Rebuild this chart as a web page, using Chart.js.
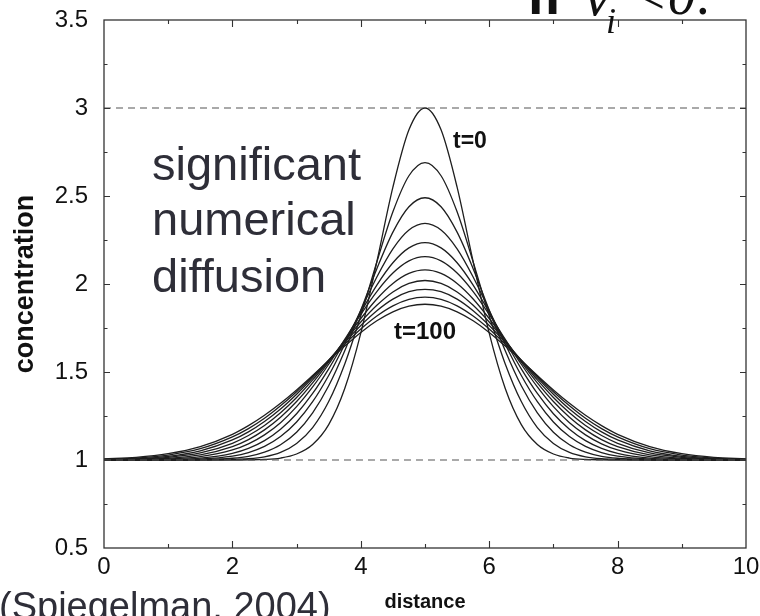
<!DOCTYPE html>
<html>
<head>
<meta charset="utf-8">
<script src="https://cdn.jsdelivr.net/npm/chart.js@4.4.0/dist/chart.umd.min.js"></script>
<style>
  html, body { margin: 0; padding: 0; background: #fff; }
  #wrap { width: 760px; height: 616px; }
</style>
</head>
<body>
<div id="wrap"><canvas id="diffChart" width="760" height="616"></canvas></div>
<script>
// distance (x) sample points
const distance = [0, 0.5, 1, 1.5, 2, 2.25, 2.5, 2.75, 3, 3.25, 3.5, 3.75, 4, 4.25, 4.5, 4.75, 5,
  5.25, 5.5, 5.75, 6, 6.25, 6.5, 6.75, 7, 7.25, 7.5, 7.75, 8, 8.5, 9, 9.5, 10];

// concentration profiles, t = 0 ... 100
const times = [0, 10, 20, 30, 40, 50, 60, 70, 80, 90, 100];
const t0 = [1.000, 1.000, 1.000, 1.000, 1.000, 1.001, 1.003, 1.011, 1.034, 1.088, 1.201, 1.406, 1.721, 2.127, 2.550, 2.876, 3.000,
  2.876, 2.550, 2.127, 1.721, 1.406, 1.201, 1.088, 1.034, 1.011, 1.003, 1.001, 1.000, 1.000, 1.000, 1.000, 1.000];
const t10 = [1.000, 1.000, 1.000, 1.000, 1.003, 1.007, 1.018, 1.043, 1.094, 1.184, 1.332, 1.546, 1.820, 2.125, 2.410, 2.615, 2.690,
  2.615, 2.410, 2.125, 1.820, 1.546, 1.332, 1.184, 1.094, 1.043, 1.018, 1.007, 1.003, 1.000, 1.000, 1.000, 1.000];
const t20 = [1.000, 1.000, 1.000, 1.002, 1.010, 1.021, 1.045, 1.087, 1.158, 1.268, 1.422, 1.621, 1.851, 2.087, 2.295, 2.439, 2.490,
  2.439, 2.295, 2.087, 1.851, 1.621, 1.422, 1.268, 1.158, 1.087, 1.045, 1.021, 1.010, 1.002, 1.000, 1.000, 1.000];
const t30 = [1.000, 1.000, 1.001, 1.005, 1.022, 1.042, 1.077, 1.133, 1.216, 1.331, 1.480, 1.658, 1.851, 2.040, 2.200, 2.307, 2.345,
  2.307, 2.200, 2.040, 1.851, 1.658, 1.480, 1.331, 1.216, 1.133, 1.077, 1.042, 1.022, 1.005, 1.001, 1.000, 1.000];
const t40 = [1.000, 1.000, 1.003, 1.011, 1.038, 1.066, 1.110, 1.175, 1.263, 1.378, 1.518, 1.675, 1.839, 1.994, 2.121, 2.205, 2.235,
  2.205, 2.121, 1.994, 1.839, 1.675, 1.518, 1.378, 1.263, 1.175, 1.110, 1.066, 1.038, 1.011, 1.003, 1.000, 1.000];
const t50 = [1.000, 1.001, 1.005, 1.019, 1.057, 1.092, 1.143, 1.212, 1.303, 1.415, 1.544, 1.685, 1.827, 1.957, 2.062, 2.131, 2.155,
  2.131, 2.062, 1.957, 1.827, 1.685, 1.544, 1.415, 1.303, 1.212, 1.143, 1.092, 1.057, 1.019, 1.005, 1.001, 1.000];
const t60 = [1.001, 1.003, 1.010, 1.029, 1.076, 1.116, 1.171, 1.243, 1.332, 1.438, 1.556, 1.681, 1.804, 1.915, 2.003, 2.060, 2.080,
  2.060, 2.003, 1.915, 1.804, 1.681, 1.556, 1.438, 1.332, 1.243, 1.171, 1.116, 1.076, 1.029, 1.010, 1.003, 1.001];
const t70 = [1.001, 1.005, 1.015, 1.040, 1.095, 1.139, 1.196, 1.268, 1.355, 1.455, 1.564, 1.676, 1.784, 1.879, 1.955, 2.003, 2.020,
  2.003, 1.955, 1.879, 1.784, 1.676, 1.564, 1.455, 1.355, 1.268, 1.196, 1.139, 1.095, 1.040, 1.015, 1.005, 1.001];
const t80 = [1.003, 1.008, 1.021, 1.052, 1.114, 1.160, 1.219, 1.290, 1.374, 1.467, 1.567, 1.668, 1.764, 1.848, 1.914, 1.956, 1.970,
  1.956, 1.914, 1.848, 1.764, 1.668, 1.567, 1.467, 1.374, 1.290, 1.219, 1.160, 1.114, 1.052, 1.021, 1.008, 1.003];
const t90 = [1.004, 1.011, 1.028, 1.064, 1.131, 1.178, 1.237, 1.308, 1.388, 1.475, 1.567, 1.658, 1.744, 1.818, 1.876, 1.913, 1.925,
  1.913, 1.876, 1.818, 1.744, 1.658, 1.567, 1.475, 1.388, 1.308, 1.237, 1.178, 1.131, 1.064, 1.028, 1.011, 1.004];
const t100 = [1.006, 1.015, 1.036, 1.076, 1.146, 1.195, 1.254, 1.322, 1.398, 1.480, 1.564, 1.647, 1.725, 1.791, 1.842, 1.874, 1.885,
  1.874, 1.842, 1.791, 1.725, 1.647, 1.564, 1.480, 1.398, 1.322, 1.254, 1.195, 1.146, 1.076, 1.036, 1.015, 1.006];
const profiles = [t0, t10, t20, t30, t40, t50, t60, t70, t80, t90, t100];

// dashed reference levels (initial max and background)
const refLevels = [3, 1];

// tick labels
const xTickValues = [0, 2, 4, 6, 8, 10];
const yTickValues = [0.5, 1, 1.5, 2, 2.5, 3, 3.5];

const SANS = '"Liberation Sans", Arial, Helvetica, sans-serif';
const SERIF = '"Liberation Serif", "Times New Roman", serif';

const curveSets = profiles.map(function(p, i) {
  return {
    label: 't=' + times[i],
    data: distance.map(function(x, j) { return { x: x, y: p[j] }; }),
    borderColor: '#1e1e1e',
    borderWidth: 1.3,
    pointRadius: 0,
    fill: false,
    cubicInterpolationMode: 'monotone'
  };
});

const dashSets = refLevels.map(function(v) {
  return {
    label: 'ref ' + v,
    data: [{ x: xTickValues[0], y: v }, { x: xTickValues[xTickValues.length - 1], y: v }],
    borderColor: '#555',
    borderWidth: 1.2,
    borderDash: [7, 5],
    pointRadius: 0,
    fill: false
  };
});

// frame, inward ticks and the text notes
const framePlugin = {
  id: 'frame',
  afterDraw(chart) {
    const c = chart.ctx;
    const a = chart.chartArea;
    const xs = chart.scales.x, ys = chart.scales.y;
    c.save();
    c.strokeStyle = '#333';
    c.lineWidth = 1.3;
    c.strokeRect(a.left, a.top, a.right - a.left, a.bottom - a.top);

    c.lineWidth = 1.1;
    c.beginPath();
    for (let v = 1; v < 10; v++) {
      const px = Math.round(xs.getPixelForValue(v)) + 0.5;
      const len = v % 2 === 0 ? 7 : 4;
      c.moveTo(px, a.bottom); c.lineTo(px, a.bottom - len);
      c.moveTo(px, a.top); c.lineTo(px, a.top + len);
    }
    for (let k = 1; k < 12; k++) {
      const v = 0.5 + k * 0.25;
      const py = Math.round(ys.getPixelForValue(v)) + 0.5;
      const len = k % 2 === 0 ? 6 : 3.5;
      c.moveTo(a.left, py); c.lineTo(a.left + len, py);
      c.moveTo(a.right, py); c.lineTo(a.right - len, py);
    }
    c.stroke();

    // curve labels
    c.fillStyle = '#111';
    c.textAlign = 'center';
    c.textBaseline = 'middle';
    c.font = 'bold 23px ' + SANS;
    c.fillText('t=0', xs.getPixelForValue(5.7), ys.getPixelForValue(2.81));
    c.font = 'bold 24px ' + SANS;
    c.fillText('t=100', xs.getPixelForValue(5.0), ys.getPixelForValue(1.725));

    // big note
    c.textAlign = 'left';
    c.textBaseline = 'alphabetic';
    c.fillStyle = '#2e2e38';
    c.font = '47px ' + SANS;
    c.fillText('significant', 152, 180);
    c.fillText('numerical', 152, 235);
    c.fillText('diffusion', 152, 292);

    // source
    c.font = '38px ' + SANS;
    c.fillText('(Spiegelman, 2004)', -1, 619);

    // cut-off condition at top right
    c.fillStyle = '#111';
    c.font = 'bold 56px ' + SANS;
    c.fillText('if', 528, 14);
    c.font = 'italic 60px ' + SERIF;
    c.fillText('\u03BD', 584, 15);
    c.font = 'italic 36px ' + SERIF;
    c.fillText('i', 606, 33);
    c.font = 'italic 56px ' + SERIF;
    c.fillText('<0:', 630, 14);
    c.restore();
  }
};

const tickFont = { family: SANS, size: 24 };

new Chart(document.getElementById('diffChart').getContext('2d'), {
  type: 'line',
  data: { datasets: dashSets.concat(curveSets) },
  options: {
    responsive: false,
    devicePixelRatio: 1,
    animation: false,
    layout: { padding: { left: 0, right: 14, top: 20, bottom: 0 } },
    plugins: { legend: { display: false }, tooltip: { enabled: false } },
    scales: {
      x: {
        type: 'linear',
        min: 0,
        max: 10,
        afterBuildTicks: function(s) { s.ticks = xTickValues.map(function(v) { return { value: v }; }); },
        afterFit: function(s) { s.height = 68; s.paddingLeft = 0; s.paddingRight = 0; },
        grid: { display: false, drawTicks: false },
        border: { display: false },
        ticks: { color: '#111', font: tickFont, padding: 5, maxRotation: 0, autoSkip: false,
          callback: function(v) { return String(v); } },
        title: { display: true, text: 'distance', color: '#111', font: { family: SANS, size: 20, weight: 'bold' }, padding: { top: 0, bottom: 2 } }
      },
      y: {
        min: 0.5,
        max: 3.5,
        afterBuildTicks: function(s) { s.ticks = yTickValues.map(function(v) { return { value: v }; }); },
        afterFit: function(s) { s.width = 104; s.paddingTop = 0; s.paddingBottom = 0; },
        grid: { display: false, drawTicks: false },
        border: { display: false },
        ticks: { color: '#111', font: tickFont, padding: 16, autoSkip: false,
          callback: function(v) { return String(v); } },
        title: { display: true, text: 'concentration', color: '#111', font: { family: SANS, size: 27, weight: 'bold' }, padding: { top: 9, bottom: 0 } }
      }
    }
  },
  plugins: [framePlugin]
});
</script>
</body>
</html>
